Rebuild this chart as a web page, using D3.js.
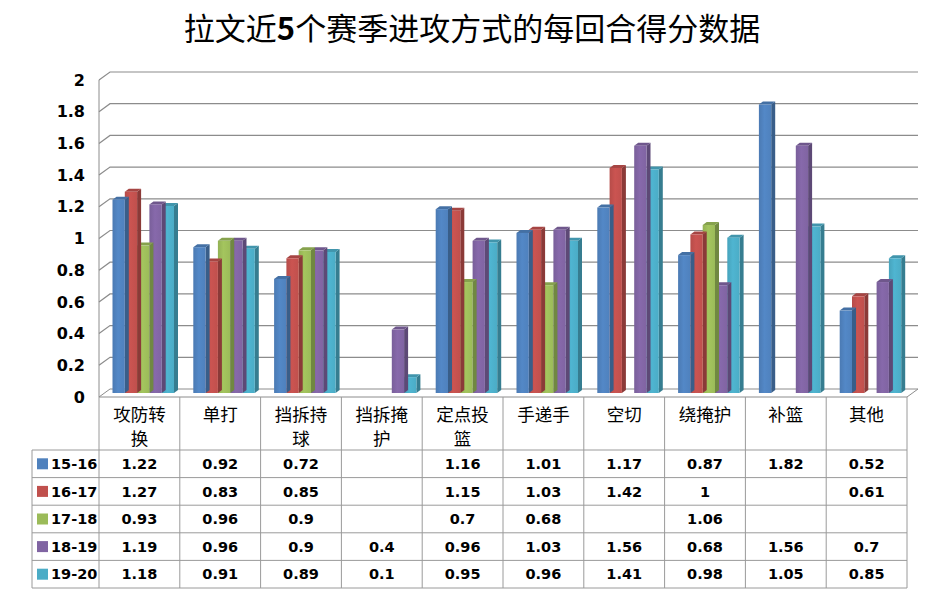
<!DOCTYPE html>
<html>
<head>
<meta charset="utf-8">
<script src="https://cdn.jsdelivr.net/npm/d3@7"></script>
<style>
  body { margin: 0; background: #fff; }
  svg { display: block; }
</style>
</head>
<body>
<svg id="chart" width="944" height="593"></svg>
<script>
// chart data
var categories = ["攻防转换", "单打", "挡拆持球", "挡拆掩护", "定点投篮", "手递手", "空切", "绕掩护", "补篮", "其他"];
var seasons = ["15-16", "16-17", "17-18", "18-19", "19-20"];
var s1516 = [1.22, 0.92, 0.72, null, 1.16, 1.01, 1.17, 0.87, 1.82, 0.52];
var s1617 = [1.27, 0.83, 0.85, null, 1.15, 1.03, 1.42, 1, null, 0.61];
var s1718 = [0.93, 0.96, 0.9, null, 0.7, 0.68, null, 1.06, null, null];
var s1819 = [1.19, 0.96, 0.9, 0.4, 0.96, 1.03, 1.56, 0.68, 1.56, 0.7];
var s1920 = [1.18, 0.91, 0.89, 0.1, 0.95, 0.96, 1.41, 0.98, 1.05, 0.85];
var yTicks = [0, 0.2, 0.4, 0.6, 0.8, 1, 1.2, 1.4, 1.6, 1.8, 2];
var colors = ["#4F81BD", "#C0504D", "#9BBB59", "#8064A2", "#4BACC6"];

var series = [s1516, s1617, s1718, s1819, s1920];

var svg = d3.select("#chart");
var defs = svg.append("defs");

// 3d layout
var left = 99, right = 907;
var depth = {x: 11, y: -8};      // wall depth
var bar3d = {x: 4, y: -3};       // bar depth

var x = d3.scaleBand().domain(categories).range([left, right]);
var xs = d3.scaleBand().domain(seasons).range([13.5, 75]);
var yFront = d3.scaleLinear().domain([0, 2]).range([397, 80]);
var yBack = d3.scaleLinear().domain([0, 2]).range([397 + depth.y, 80 + depth.y]);
var yBar = d3.scaleLinear().domain([0, 2]).range([393, 76]);

// title, the 5 is bold in the original
var title = svg.append("text")
  .attr("x", 472).attr("y", 40)
  .attr("text-anchor", "middle")
  .style("font-family", "'Noto Sans CJK SC', sans-serif")
  .style("font-size", "31px")
  .style("fill", "#000");
title.append("tspan").text("拉文近");
title.append("tspan").style("font-weight", "bold").text("5");
title.append("tspan").text("个赛季进攻方式的每回合得分数据");

var grid = "#8c8c8c";

// floor
svg.append("path")
  .attr("d", "M" + left + "," + yFront(0) + "L" + right + "," + yFront(0) +
    "L" + (right + depth.x) + "," + yBack(0) + "L" + (left + depth.x) + "," + yBack(0) + "Z")
  .attr("fill", "#fff")
  .attr("stroke", grid);

// gridlines on left wall and back wall
yTicks.forEach(function(t) {
  if (t == 0) return;
  svg.append("path")
    .attr("d", "M" + left + "," + yFront(t) + "L" + (left + depth.x) + "," + yBack(t) + "L" + (right + depth.x) + "," + yBack(t))
    .attr("fill", "none")
    .attr("stroke", grid)
    .attr("stroke-width", 1.2);
});
svg.append("line")
  .attr("x1", left).attr("x2", left)
  .attr("y1", yFront(2)).attr("y2", yFront(0))
  .attr("stroke", grid);

// y axis labels
svg.append("g").selectAll("text")
  .data(yTicks)
  .enter().append("text")
  .attr("x", 85)
  .attr("y", function(d) { return yFront(d); })
  .attr("dy", "0.35em")
  .attr("text-anchor", "end")
  .style("font-family", "'DejaVu Sans', sans-serif")
  .style("font-weight", "bold")
  .style("font-size", "16px")
  .text(function(d) { return d; });

// gradients for bar fronts
colors.forEach(function(c, i) {
  var g = defs.append("linearGradient").attr("id", "grad" + i)
    .attr("x1", "0").attr("x2", "1").attr("y1", "0").attr("y2", "0");
  g.append("stop").attr("offset", "0").attr("stop-color", d3.color(c).darker(0.15));
  g.append("stop").attr("offset", "0.45").attr("stop-color", d3.color(c).brighter(0.15));
  g.append("stop").attr("offset", "1").attr("stop-color", c);
});

// bars, drawn back to front per category
var bars = svg.append("g");
categories.forEach(function(cat, ci) {
  for (var si = seasons.length - 1; si >= 0; si--) {
    var v = series[si][ci];
    if (v == null) continue;
    var x0 = x(cat) + xs(seasons[si]);
    var w = xs.bandwidth();
    var y0 = yBar(0), y1 = yBar(v);
    var c = d3.color(colors[si]);
    // side
    bars.append("path")
      .attr("d", "M" + (x0 + w) + "," + y0 + "L" + (x0 + w + bar3d.x) + "," + (y0 + bar3d.y) +
        "L" + (x0 + w + bar3d.x) + "," + (y1 + bar3d.y) + "L" + (x0 + w) + "," + y1 + "Z")
      .attr("fill", c.darker(0.9));
    // top
    bars.append("path")
      .attr("d", "M" + x0 + "," + y1 + "L" + (x0 + bar3d.x) + "," + (y1 + bar3d.y) +
        "L" + (x0 + w + bar3d.x) + "," + (y1 + bar3d.y) + "L" + (x0 + w) + "," + y1 + "Z")
      .attr("fill", c.darker(0.4));
    // front
    bars.append("rect")
      .attr("x", x0).attr("y", y1)
      .attr("width", w).attr("height", y0 - y1)
      .attr("fill", "url(#grad" + si + ")");
  }
});

// data table
var tableLeft = 32;
var headerBottom = 450;
var rowH = 27.6;
var line = "#9a9a9a";
var tbl = svg.append("g");

d3.range(seasons.length + 1).forEach(function(r) {
  tbl.append("line")
    .attr("x1", tableLeft).attr("x2", right)
    .attr("y1", headerBottom + r * rowH).attr("y2", headerBottom + r * rowH)
    .attr("stroke", line);
});
categories.concat(["end"]).forEach(function(cat, i) {
  var xx = i < categories.length ? x(cat) : right;
  tbl.append("line")
    .attr("x1", xx).attr("x2", xx)
    .attr("y1", yFront(0)).attr("y2", headerBottom + seasons.length * rowH)
    .attr("stroke", line);
});
tbl.append("line")
  .attr("x1", tableLeft).attr("x2", tableLeft)
  .attr("y1", headerBottom).attr("y2", headerBottom + seasons.length * rowH)
  .attr("stroke", line);

// category labels, 3 characters per line
categories.forEach(function(cat) {
  var lines = [];
  for (var k = 0; k < cat.length; k += 3) lines.push(cat.slice(k, k + 3));
  lines.forEach(function(l, li) {
    tbl.append("text")
      .attr("x", x(cat) + x.bandwidth() / 2)
      .attr("y", 421 + li * 24)
      .attr("text-anchor", "middle")
      .style("font-family", "'Noto Sans CJK SC', sans-serif")
      .style("font-size", "17.5px")
      .text(l);
  });
});

// legend keys and values
seasons.forEach(function(s, si) {
  var cy = headerBottom + si * rowH + rowH / 2;
  tbl.append("rect")
    .attr("x", 37).attr("y", cy - 5.5)
    .attr("width", 11).attr("height", 11)
    .attr("fill", colors[si]);
  tbl.append("text")
    .attr("x", 51).attr("y", cy).attr("dy", "0.36em")
    .style("font-family", "'DejaVu Sans', sans-serif")
    .style("font-weight", "bold")
    .style("font-size", "14.5px")
    .text(s);
  categories.forEach(function(cat, ci) {
    var v = series[si][ci];
    if (v == null) return;
    tbl.append("text")
      .attr("x", x(cat) + x.bandwidth() / 2)
      .attr("y", cy).attr("dy", "0.36em")
      .attr("text-anchor", "middle")
      .style("font-family", "'DejaVu Sans', sans-serif")
      .style("font-weight", "bold")
      .style("font-size", "14.5px")
      .text(v);
  });
});
</script>
</body>
</html>
